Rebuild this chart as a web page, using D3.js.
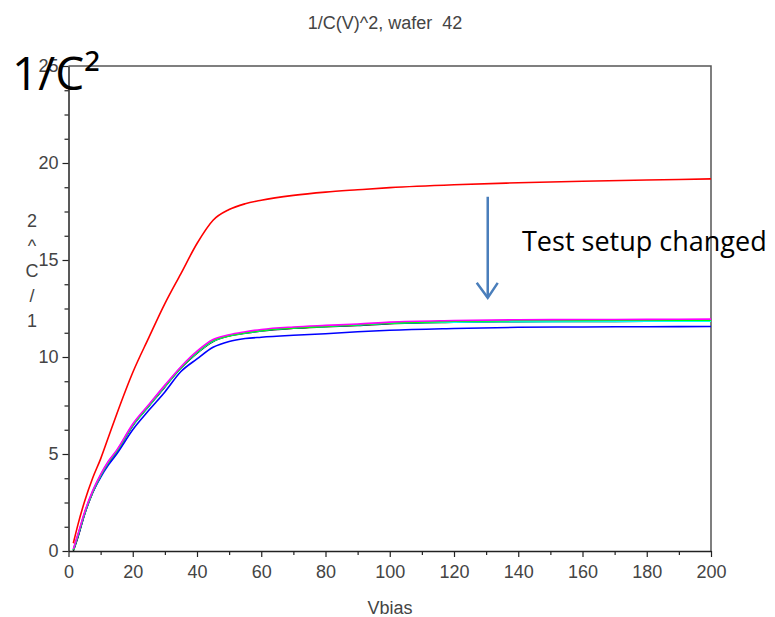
<!DOCTYPE html>
<html>
<head>
<meta charset="utf-8">
<script src="https://cdn.jsdelivr.net/npm/d3@7"></script>
<style>
  body { margin: 0; background: #fff; }
  svg { display: block; }
  .tick text { font-family: "Liberation Sans", Arial, sans-serif; font-size: 18px; fill: #444; }
</style>
</head>
<body>
<div id="scene"></div>
<script>
// bias voltage samples and 1/C^2 values per measurement
const vbias = [1.5, 3, 5, 7.5, 10, 12.5, 15, 20, 25, 30, 35, 40, 45, 50, 55, 60, 70, 80, 90, 100, 120, 140, 160, 180, 200];
const redVals = [0.4, 1.4, 2.55, 3.75, 4.75, 5.9, 7.05, 9.2, 11.0, 12.75, 14.3, 15.85, 17.05, 17.6, 17.9, 18.08, 18.33, 18.5, 18.62, 18.73, 18.88, 18.98, 19.06, 19.12, 19.18];
const magentaVals = [0.1, 0.9, 2.0, 3.1, 3.95, 4.65, 5.2, 6.55, 7.55, 8.55, 9.5, 10.3, 10.9, 11.15, 11.3, 11.42, 11.55, 11.63, 11.7, 11.8, 11.88, 11.92, 11.93, 11.94, 11.95];
const greenVals = [0.05, 0.85, 1.95, 3.05, 3.9, 4.6, 5.15, 6.5, 7.5, 8.5, 9.45, 10.25, 10.85, 11.1, 11.25, 11.37, 11.5, 11.58, 11.66, 11.75, 11.84, 11.88, 11.89, 11.9, 11.9];
const cyanVals = [0.05, 0.85, 1.95, 3.05, 3.9, 4.6, 5.15, 6.48, 7.48, 8.48, 9.45, 10.22, 10.82, 11.1, 11.24, 11.36, 11.5, 11.58, 11.65, 11.74, 11.8, 11.82, 11.83, 11.84, 11.85];
const blackVals = [0.0, 0.75, 1.9, 3.0, 3.87, 4.57, 5.12, 6.46, 7.46, 8.46, 9.43, 10.2, 10.8, 11.08, 11.22, 11.34, 11.48, 11.56, 11.63, 11.72, 11.79, 11.82, 11.83, 11.84, 11.85];
const blueVals = [0.05, 0.8, 1.9, 3.0, 3.8, 4.45, 5.0, 6.25, 7.25, 8.2, 9.25, 9.9, 10.5, 10.8, 10.95, 11.02, 11.12, 11.2, 11.3, 11.38, 11.47, 11.53, 11.55, 11.56, 11.57];

const series = [
  {name: "black", values: blackVals, color: "#000000"},
  {name: "blue", values: blueVals, color: "#0000ff"},
  {name: "cyan", values: cyanVals, color: "#00ffff"},
  {name: "green", values: greenVals, color: "#00ff00"},
  {name: "magenta", values: magentaVals, color: "#ff00ff"},
  {name: "red", values: redVals, color: "#ff0000"}
];

const xMajor = [0, 20, 40, 60, 80, 100, 120, 140, 160, 180, 200];
const xMinor = [10, 30, 50, 70, 90, 110, 130, 150, 170, 190];
const yMajor = [0, 5, 10, 15, 20, 25];
const yMinor = [1.25, 2.5, 3.75, 6.25, 7.5, 8.75, 11.25, 12.5, 13.75, 16.25, 17.5, 18.75, 21.25, 22.5, 23.75];

const width = 775, height = 617;
const margin = {top: 66, right: 64, bottom: 66, left: 68.5};

const svg = d3.select("#scene")
  .append("svg")
  .attr("width", width)
  .attr("height", height);

const x = d3.scaleLinear().domain([0, 200]).range([margin.left, width - margin.right]);
const y = d3.scaleLinear().domain([0, 25]).range([height - margin.bottom, margin.top]);

// frame (top and right)
svg.append("path")
  .attr("d", `M${x(0)},${y(25)}H${x(200)}V${y(0)}`)
  .attr("fill", "none")
  .attr("stroke", "#555")
  .attr("stroke-width", 1.5);

// lines
const line = d3.line()
  .x((d, i) => x(vbias[i]))
  .y(d => y(d))
  .curve(d3.curveMonotoneX);

svg.selectAll("path.curve")
  .data(series)
  .enter()
  .append("path")
  .attr("class", "curve")
  .attr("d", d => line(d.values))
  .attr("fill", "none")
  .attr("stroke", d => d.color)
  .attr("stroke-width", 1.6);

// axes
svg.append("g")
  .attr("transform", `translate(0,${y(0)})`)
  .call(d3.axisBottom(x).tickValues(xMajor).tickSize(6).tickPadding(8).tickSizeOuter(0));
svg.append("g")
  .attr("transform", `translate(0,${y(0)})`)
  .call(d3.axisBottom(x).tickValues(xMinor).tickSize(4).tickFormat("").tickSizeOuter(0))
  .select(".domain").remove();

svg.append("g")
  .attr("transform", `translate(${x(0)},0)`)
  .call(d3.axisLeft(y).tickValues(yMajor).tickSize(6).tickPadding(4).tickSizeOuter(0));
svg.append("g")
  .attr("transform", `translate(${x(0)},0)`)
  .call(d3.axisLeft(y).tickValues(yMinor).tickSize(4).tickFormat("").tickSizeOuter(0))
  .select(".domain").remove();

svg.selectAll(".domain").attr("stroke", "#222").attr("stroke-width", 1.5);
svg.selectAll(".tick line").attr("stroke", "#222").attr("stroke-width", 1.2);

// title
svg.append("text")
  .attr("x", 385)
  .attr("y", 29)
  .attr("text-anchor", "middle")
  .attr("font-family", "Liberation Sans, Arial, sans-serif")
  .attr("font-size", "18px")
  .attr("fill", "#444")
  .attr("xml:space", "preserve")
  .text("1/C(V)^2, wafer  42");

// x label
svg.append("text")
  .attr("x", 390)
  .attr("y", 614)
  .attr("text-anchor", "middle")
  .attr("font-family", "Liberation Sans, Arial, sans-serif")
  .attr("font-size", "18px")
  .attr("fill", "#444")
  .text("Vbias");

// y label, letters stacked
const yLabel = ["2", "^", "C", "/", "1"];
svg.selectAll("text.ylab")
  .data(yLabel)
  .enter()
  .append("text")
  .attr("class", "ylab")
  .attr("x", 32)
  .attr("y", (d, i) => 227 + i * 25)
  .attr("text-anchor", "middle")
  .attr("font-family", "Liberation Sans, Arial, sans-serif")
  .attr("font-size", "18px")
  .attr("fill", "#444")
  .text(d => d);

// overlay annotations
svg.append("text")
  .attr("x", 12)
  .attr("y", 90)
  .attr("font-family", "Open Sans, sans-serif")
  .attr("font-size", "46px")
  .attr("fill", "#000")
  .text("1/C²");

svg.append("text")
  .attr("x", 522)
  .attr("y", 251)
  .attr("font-family", "Open Sans, sans-serif")
  .attr("font-size", "27px")
  .attr("fill", "#000")
  .text("Test setup changed");

// arrow
const ax = x(130.5);
svg.append("path")
  .attr("d", `M${ax},${y(18.26)}V${y(13.05)}`)
  .attr("stroke", "#4a7ebb")
  .attr("stroke-width", 2.5)
  .attr("fill", "none");
svg.append("path")
  .attr("d", `M${ax - 11},${y(13.05) - 15}L${ax},${y(13.05)}L${ax + 10},${y(13.05) - 15}`)
  .attr("stroke", "#4a7ebb")
  .attr("stroke-width", 2.5)
  .attr("fill", "none");
</script>
</body>
</html>
